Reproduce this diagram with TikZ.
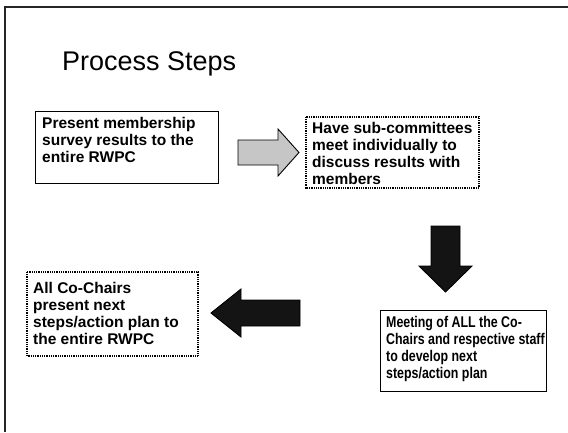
\documentclass[tikz,border=0pt]{standalone}
\usepackage{fontspec}
\setmainfont{Liberation Sans}
\newfontfamily\narrowsans[FakeStretch=0.8]{Liberation Sans}
\begin{document}
\begin{tikzpicture}[x=1pt,y=-1pt,
  solidbox/.style={draw=black,line width=1pt},
  dotbox/.style={draw=black,line width=1.3pt,dash pattern=on 0.9pt off 0.9pt},
  boxtext/.style={anchor=north west,inner sep=0pt,align=left,
    font=\fontsize{15.5}{17}\selectfont\bfseries},
  narrowtext/.style={anchor=north west,inner sep=0pt,align=left,
    font=\narrowsans\fontsize{15.5}{17}\selectfont\bfseries},
  grayarrow/.style={draw=black,line width=0.9pt,fill=gray!45},
  blackarrow/.style={draw=black,line width=0.9pt,fill=black!92},
  frame/.style={line width=1.6pt,draw=black!85}]
\useasboundingbox (0,0) rectangle (568,432);
\fill[white] (0,0) rectangle (568,432);
% frame
\draw[frame] (5,432) -- (5,7) -- (568,7);
% title
\node[anchor=base west,inner sep=0pt,font=\fontsize{27}{30}\selectfont] (title) at (62,70) {Process Steps};
% boxes
\draw[solidbox] (35,111) rectangle (218,183);
\node[boxtext] (t1) at (42,117) {Present membership\\survey results to the\\entire RWPC};
\draw[dotbox] (306,117) rectangle (479,188);
\node[boxtext] (t2) at (312,122) {Have sub-committees\\meet individually to\\discuss results with\\members};
\draw[solidbox] (380,310) rectangle (546,391);
\node[narrowtext] (t4) at (386,316) {Meeting of ALL the Co-\\Chairs and respective staff\\to develop next\\steps/action plan};
\draw[dotbox] (27,272) rectangle (198,356);
\node[boxtext] (t3) at (33,282) {All Co-Chairs\\present next\\steps/action plan to\\the entire RWPC};
% arrows
\draw[grayarrow] (238,140) -- (278,140) -- (278,129) -- (299,152.5) -- (278,176) -- (278,165) -- (238,165) -- cycle;
\draw[blackarrow] (431,226) -- (460,226) -- (460,266) -- (472,266) -- (445.5,292) -- (419,266) -- (431,266) -- cycle;
\draw[blackarrow] (300,300) -- (241,300) -- (241,289) -- (211,313) -- (241,337) -- (241,326) -- (300,326) -- cycle;
\end{tikzpicture}
\end{document}
